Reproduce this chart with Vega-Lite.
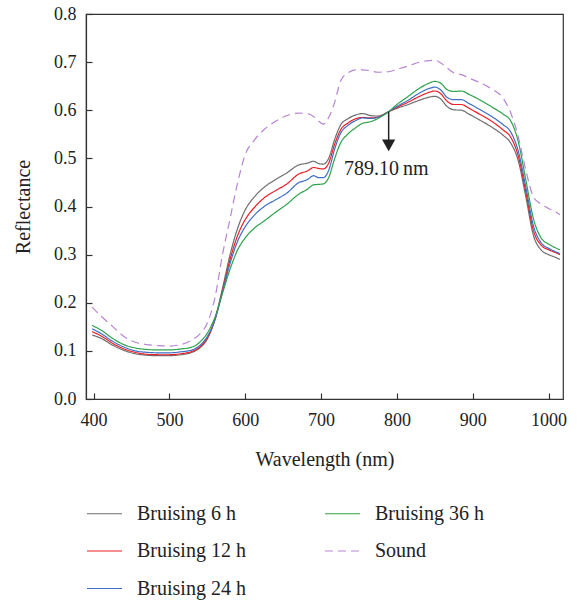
{
  "$schema": "https://vega.github.io/schema/vega-lite/v6.json",
  "autosize": "none",
  "width": 477,
  "height": 385,
  "padding": {"left": 86, "top": 14, "right": 14, "bottom": 202},
  "config": {
    "font": "Liberation Serif",
    "view": {"stroke": "#333", "strokeWidth": 1.2},
    "axis": {"grid": false, "domainColor": "#333", "domainWidth": 1.2, "tickColor": "#333", "tickWidth": 1.2, "labelColor": "#222", "titleColor": "#222", "labelFont": "Liberation Serif", "titleFont": "Liberation Serif", "titleFontWeight": "normal", "labelFontSize": 18, "titleFontSize": 20}
  },
  "datasets": {
    "spectra": [
      {"w":398,"r":0.133,"s":"Bruising 6 h"},{"w":410,"r":0.126,"s":"Bruising 6 h"},{"w":425,"r":0.112,"s":"Bruising 6 h"},{"w":440,"r":0.101,"s":"Bruising 6 h"},{"w":455,"r":0.094,"s":"Bruising 6 h"},{"w":470,"r":0.091,"s":"Bruising 6 h"},{"w":485,"r":0.090,"s":"Bruising 6 h"},{"w":500,"r":0.090,"s":"Bruising 6 h"},{"w":515,"r":0.092,"s":"Bruising 6 h"},{"w":530,"r":0.097,"s":"Bruising 6 h"},{"w":540,"r":0.106,"s":"Bruising 6 h"},{"w":550,"r":0.125,"s":"Bruising 6 h"},{"w":560,"r":0.165,"s":"Bruising 6 h"},{"w":570,"r":0.230,"s":"Bruising 6 h"},{"w":580,"r":0.300,"s":"Bruising 6 h"},{"w":590,"r":0.355,"s":"Bruising 6 h"},{"w":600,"r":0.393,"s":"Bruising 6 h"},{"w":612,"r":0.420,"s":"Bruising 6 h"},{"w":625,"r":0.440,"s":"Bruising 6 h"},{"w":640,"r":0.456,"s":"Bruising 6 h"},{"w":655,"r":0.470,"s":"Bruising 6 h"},{"w":670,"r":0.486,"s":"Bruising 6 h"},{"w":682,"r":0.490,"s":"Bruising 6 h"},{"w":690,"r":0.494,"s":"Bruising 6 h"},{"w":697,"r":0.489,"s":"Bruising 6 h"},{"w":703,"r":0.488,"s":"Bruising 6 h"},{"w":710,"r":0.500,"s":"Bruising 6 h"},{"w":718,"r":0.540,"s":"Bruising 6 h"},{"w":726,"r":0.570,"s":"Bruising 6 h"},{"w":735,"r":0.582,"s":"Bruising 6 h"},{"w":745,"r":0.590,"s":"Bruising 6 h"},{"w":755,"r":0.593,"s":"Bruising 6 h"},{"w":765,"r":0.589,"s":"Bruising 6 h"},{"w":775,"r":0.588,"s":"Bruising 6 h"},{"w":789,"r":0.597,"s":"Bruising 6 h"},{"w":800,"r":0.604,"s":"Bruising 6 h"},{"w":815,"r":0.612,"s":"Bruising 6 h"},{"w":830,"r":0.621,"s":"Bruising 6 h"},{"w":842,"r":0.627,"s":"Bruising 6 h"},{"w":850,"r":0.629,"s":"Bruising 6 h"},{"w":858,"r":0.623,"s":"Bruising 6 h"},{"w":866,"r":0.608,"s":"Bruising 6 h"},{"w":875,"r":0.601,"s":"Bruising 6 h"},{"w":885,"r":0.600,"s":"Bruising 6 h"},{"w":895,"r":0.592,"s":"Bruising 6 h"},{"w":910,"r":0.579,"s":"Bruising 6 h"},{"w":925,"r":0.565,"s":"Bruising 6 h"},{"w":940,"r":0.548,"s":"Bruising 6 h"},{"w":950,"r":0.532,"s":"Bruising 6 h"},{"w":960,"r":0.495,"s":"Bruising 6 h"},{"w":970,"r":0.420,"s":"Bruising 6 h"},{"w":980,"r":0.340,"s":"Bruising 6 h"},{"w":990,"r":0.310,"s":"Bruising 6 h"},{"w":1000,"r":0.300,"s":"Bruising 6 h"},{"w":1008,"r":0.295,"s":"Bruising 6 h"},{"w":1015,"r":0.290,"s":"Bruising 6 h"},

      {"w":398,"r":0.140,"s":"Bruising 12 h"},{"w":410,"r":0.131,"s":"Bruising 12 h"},{"w":425,"r":0.116,"s":"Bruising 12 h"},{"w":440,"r":0.104,"s":"Bruising 12 h"},{"w":455,"r":0.097,"s":"Bruising 12 h"},{"w":470,"r":0.093,"s":"Bruising 12 h"},{"w":485,"r":0.092,"s":"Bruising 12 h"},{"w":500,"r":0.092,"s":"Bruising 12 h"},{"w":515,"r":0.094,"s":"Bruising 12 h"},{"w":530,"r":0.099,"s":"Bruising 12 h"},{"w":540,"r":0.108,"s":"Bruising 12 h"},{"w":550,"r":0.127,"s":"Bruising 12 h"},{"w":560,"r":0.165,"s":"Bruising 12 h"},{"w":570,"r":0.225,"s":"Bruising 12 h"},{"w":580,"r":0.290,"s":"Bruising 12 h"},{"w":590,"r":0.340,"s":"Bruising 12 h"},{"w":600,"r":0.373,"s":"Bruising 12 h"},{"w":612,"r":0.398,"s":"Bruising 12 h"},{"w":625,"r":0.418,"s":"Bruising 12 h"},{"w":640,"r":0.433,"s":"Bruising 12 h"},{"w":655,"r":0.447,"s":"Bruising 12 h"},{"w":670,"r":0.467,"s":"Bruising 12 h"},{"w":682,"r":0.474,"s":"Bruising 12 h"},{"w":690,"r":0.481,"s":"Bruising 12 h"},{"w":697,"r":0.479,"s":"Bruising 12 h"},{"w":703,"r":0.478,"s":"Bruising 12 h"},{"w":710,"r":0.490,"s":"Bruising 12 h"},{"w":718,"r":0.530,"s":"Bruising 12 h"},{"w":726,"r":0.560,"s":"Bruising 12 h"},{"w":735,"r":0.573,"s":"Bruising 12 h"},{"w":745,"r":0.582,"s":"Bruising 12 h"},{"w":755,"r":0.585,"s":"Bruising 12 h"},{"w":765,"r":0.584,"s":"Bruising 12 h"},{"w":775,"r":0.586,"s":"Bruising 12 h"},{"w":789,"r":0.597,"s":"Bruising 12 h"},{"w":800,"r":0.606,"s":"Bruising 12 h"},{"w":815,"r":0.617,"s":"Bruising 12 h"},{"w":830,"r":0.629,"s":"Bruising 12 h"},{"w":842,"r":0.637,"s":"Bruising 12 h"},{"w":850,"r":0.640,"s":"Bruising 12 h"},{"w":858,"r":0.634,"s":"Bruising 12 h"},{"w":866,"r":0.619,"s":"Bruising 12 h"},{"w":875,"r":0.612,"s":"Bruising 12 h"},{"w":885,"r":0.612,"s":"Bruising 12 h"},{"w":895,"r":0.604,"s":"Bruising 12 h"},{"w":910,"r":0.591,"s":"Bruising 12 h"},{"w":925,"r":0.577,"s":"Bruising 12 h"},{"w":940,"r":0.559,"s":"Bruising 12 h"},{"w":950,"r":0.544,"s":"Bruising 12 h"},{"w":960,"r":0.505,"s":"Bruising 12 h"},{"w":970,"r":0.430,"s":"Bruising 12 h"},{"w":980,"r":0.350,"s":"Bruising 12 h"},{"w":990,"r":0.320,"s":"Bruising 12 h"},{"w":1000,"r":0.310,"s":"Bruising 12 h"},{"w":1008,"r":0.305,"s":"Bruising 12 h"},{"w":1015,"r":0.300,"s":"Bruising 12 h"},

      {"w":398,"r":0.146,"s":"Bruising 24 h"},{"w":410,"r":0.136,"s":"Bruising 24 h"},{"w":425,"r":0.120,"s":"Bruising 24 h"},{"w":440,"r":0.108,"s":"Bruising 24 h"},{"w":455,"r":0.100,"s":"Bruising 24 h"},{"w":470,"r":0.097,"s":"Bruising 24 h"},{"w":485,"r":0.096,"s":"Bruising 24 h"},{"w":500,"r":0.096,"s":"Bruising 24 h"},{"w":515,"r":0.098,"s":"Bruising 24 h"},{"w":530,"r":0.102,"s":"Bruising 24 h"},{"w":540,"r":0.111,"s":"Bruising 24 h"},{"w":550,"r":0.130,"s":"Bruising 24 h"},{"w":560,"r":0.165,"s":"Bruising 24 h"},{"w":570,"r":0.222,"s":"Bruising 24 h"},{"w":580,"r":0.282,"s":"Bruising 24 h"},{"w":590,"r":0.328,"s":"Bruising 24 h"},{"w":600,"r":0.358,"s":"Bruising 24 h"},{"w":612,"r":0.382,"s":"Bruising 24 h"},{"w":625,"r":0.400,"s":"Bruising 24 h"},{"w":640,"r":0.414,"s":"Bruising 24 h"},{"w":655,"r":0.428,"s":"Bruising 24 h"},{"w":670,"r":0.449,"s":"Bruising 24 h"},{"w":682,"r":0.456,"s":"Bruising 24 h"},{"w":690,"r":0.464,"s":"Bruising 24 h"},{"w":697,"r":0.460,"s":"Bruising 24 h"},{"w":703,"r":0.460,"s":"Bruising 24 h"},{"w":710,"r":0.475,"s":"Bruising 24 h"},{"w":718,"r":0.520,"s":"Bruising 24 h"},{"w":726,"r":0.553,"s":"Bruising 24 h"},{"w":735,"r":0.568,"s":"Bruising 24 h"},{"w":745,"r":0.578,"s":"Bruising 24 h"},{"w":755,"r":0.584,"s":"Bruising 24 h"},{"w":765,"r":0.583,"s":"Bruising 24 h"},{"w":775,"r":0.585,"s":"Bruising 24 h"},{"w":789,"r":0.597,"s":"Bruising 24 h"},{"w":800,"r":0.608,"s":"Bruising 24 h"},{"w":815,"r":0.621,"s":"Bruising 24 h"},{"w":830,"r":0.636,"s":"Bruising 24 h"},{"w":842,"r":0.645,"s":"Bruising 24 h"},{"w":850,"r":0.648,"s":"Bruising 24 h"},{"w":858,"r":0.642,"s":"Bruising 24 h"},{"w":866,"r":0.627,"s":"Bruising 24 h"},{"w":875,"r":0.622,"s":"Bruising 24 h"},{"w":885,"r":0.622,"s":"Bruising 24 h"},{"w":895,"r":0.614,"s":"Bruising 24 h"},{"w":910,"r":0.601,"s":"Bruising 24 h"},{"w":925,"r":0.587,"s":"Bruising 24 h"},{"w":940,"r":0.570,"s":"Bruising 24 h"},{"w":950,"r":0.555,"s":"Bruising 24 h"},{"w":960,"r":0.515,"s":"Bruising 24 h"},{"w":970,"r":0.440,"s":"Bruising 24 h"},{"w":980,"r":0.360,"s":"Bruising 24 h"},{"w":990,"r":0.325,"s":"Bruising 24 h"},{"w":1000,"r":0.313,"s":"Bruising 24 h"},{"w":1008,"r":0.307,"s":"Bruising 24 h"},{"w":1015,"r":0.302,"s":"Bruising 24 h"},

      {"w":398,"r":0.153,"s":"Bruising 36 h"},{"w":410,"r":0.143,"s":"Bruising 36 h"},{"w":425,"r":0.126,"s":"Bruising 36 h"},{"w":440,"r":0.113,"s":"Bruising 36 h"},{"w":455,"r":0.106,"s":"Bruising 36 h"},{"w":470,"r":0.103,"s":"Bruising 36 h"},{"w":485,"r":0.102,"s":"Bruising 36 h"},{"w":500,"r":0.102,"s":"Bruising 36 h"},{"w":515,"r":0.104,"s":"Bruising 36 h"},{"w":530,"r":0.108,"s":"Bruising 36 h"},{"w":540,"r":0.118,"s":"Bruising 36 h"},{"w":550,"r":0.137,"s":"Bruising 36 h"},{"w":560,"r":0.170,"s":"Bruising 36 h"},{"w":570,"r":0.220,"s":"Bruising 36 h"},{"w":580,"r":0.270,"s":"Bruising 36 h"},{"w":590,"r":0.310,"s":"Bruising 36 h"},{"w":600,"r":0.335,"s":"Bruising 36 h"},{"w":612,"r":0.355,"s":"Bruising 36 h"},{"w":625,"r":0.370,"s":"Bruising 36 h"},{"w":640,"r":0.388,"s":"Bruising 36 h"},{"w":655,"r":0.405,"s":"Bruising 36 h"},{"w":670,"r":0.425,"s":"Bruising 36 h"},{"w":682,"r":0.436,"s":"Bruising 36 h"},{"w":690,"r":0.445,"s":"Bruising 36 h"},{"w":697,"r":0.446,"s":"Bruising 36 h"},{"w":703,"r":0.447,"s":"Bruising 36 h"},{"w":710,"r":0.460,"s":"Bruising 36 h"},{"w":718,"r":0.500,"s":"Bruising 36 h"},{"w":726,"r":0.533,"s":"Bruising 36 h"},{"w":735,"r":0.550,"s":"Bruising 36 h"},{"w":745,"r":0.563,"s":"Bruising 36 h"},{"w":755,"r":0.573,"s":"Bruising 36 h"},{"w":765,"r":0.576,"s":"Bruising 36 h"},{"w":775,"r":0.583,"s":"Bruising 36 h"},{"w":789,"r":0.597,"s":"Bruising 36 h"},{"w":800,"r":0.612,"s":"Bruising 36 h"},{"w":815,"r":0.629,"s":"Bruising 36 h"},{"w":830,"r":0.646,"s":"Bruising 36 h"},{"w":842,"r":0.656,"s":"Bruising 36 h"},{"w":850,"r":0.660,"s":"Bruising 36 h"},{"w":858,"r":0.656,"s":"Bruising 36 h"},{"w":866,"r":0.643,"s":"Bruising 36 h"},{"w":875,"r":0.639,"s":"Bruising 36 h"},{"w":885,"r":0.640,"s":"Bruising 36 h"},{"w":895,"r":0.633,"s":"Bruising 36 h"},{"w":910,"r":0.621,"s":"Bruising 36 h"},{"w":925,"r":0.607,"s":"Bruising 36 h"},{"w":940,"r":0.592,"s":"Bruising 36 h"},{"w":950,"r":0.578,"s":"Bruising 36 h"},{"w":960,"r":0.535,"s":"Bruising 36 h"},{"w":970,"r":0.455,"s":"Bruising 36 h"},{"w":980,"r":0.375,"s":"Bruising 36 h"},{"w":990,"r":0.335,"s":"Bruising 36 h"},{"w":1000,"r":0.322,"s":"Bruising 36 h"},{"w":1008,"r":0.315,"s":"Bruising 36 h"},{"w":1015,"r":0.310,"s":"Bruising 36 h"},

      {"w":398,"r":0.191,"s":"Sound"},{"w":410,"r":0.172,"s":"Sound"},{"w":425,"r":0.151,"s":"Sound"},{"w":440,"r":0.130,"s":"Sound"},{"w":455,"r":0.118,"s":"Sound"},{"w":470,"r":0.113,"s":"Sound"},{"w":485,"r":0.111,"s":"Sound"},{"w":500,"r":0.110,"s":"Sound"},{"w":515,"r":0.113,"s":"Sound"},{"w":530,"r":0.123,"s":"Sound"},{"w":540,"r":0.135,"s":"Sound"},{"w":550,"r":0.158,"s":"Sound"},{"w":560,"r":0.210,"s":"Sound"},{"w":570,"r":0.300,"s":"Sound"},{"w":580,"r":0.375,"s":"Sound"},{"w":590,"r":0.450,"s":"Sound"},{"w":600,"r":0.508,"s":"Sound"},{"w":612,"r":0.538,"s":"Sound"},{"w":625,"r":0.560,"s":"Sound"},{"w":640,"r":0.577,"s":"Sound"},{"w":655,"r":0.589,"s":"Sound"},{"w":670,"r":0.594,"s":"Sound"},{"w":682,"r":0.593,"s":"Sound"},{"w":690,"r":0.587,"s":"Sound"},{"w":697,"r":0.577,"s":"Sound"},{"w":703,"r":0.571,"s":"Sound"},{"w":710,"r":0.585,"s":"Sound"},{"w":718,"r":0.617,"s":"Sound"},{"w":726,"r":0.662,"s":"Sound"},{"w":735,"r":0.677,"s":"Sound"},{"w":745,"r":0.684,"s":"Sound"},{"w":755,"r":0.684,"s":"Sound"},{"w":765,"r":0.682,"s":"Sound"},{"w":775,"r":0.679,"s":"Sound"},{"w":789,"r":0.680,"s":"Sound"},{"w":800,"r":0.685,"s":"Sound"},{"w":815,"r":0.692,"s":"Sound"},{"w":830,"r":0.700,"s":"Sound"},{"w":842,"r":0.703,"s":"Sound"},{"w":850,"r":0.704,"s":"Sound"},{"w":858,"r":0.698,"s":"Sound"},{"w":866,"r":0.688,"s":"Sound"},{"w":875,"r":0.678,"s":"Sound"},{"w":885,"r":0.674,"s":"Sound"},{"w":895,"r":0.667,"s":"Sound"},{"w":910,"r":0.657,"s":"Sound"},{"w":925,"r":0.644,"s":"Sound"},{"w":940,"r":0.625,"s":"Sound"},{"w":950,"r":0.595,"s":"Sound"},{"w":960,"r":0.545,"s":"Sound"},{"w":970,"r":0.475,"s":"Sound"},{"w":980,"r":0.420,"s":"Sound"},{"w":990,"r":0.405,"s":"Sound"},{"w":1000,"r":0.396,"s":"Sound"},{"w":1008,"r":0.390,"s":"Sound"},{"w":1015,"r":0.383,"s":"Sound"}
    ]
  },
  "layer": [
    {
      "data": {"name": "spectra"},
      "mark": {"type": "line", "strokeWidth": 1.2, "interpolate": "monotone"},
      "encoding": {
        "x": {"field": "w", "type": "quantitative", "scale": {"domain": [390, 1019], "nice": false, "zero": false},
          "axis": {"title": "Wavelength (nm)", "values": [400,450,500,550,600,650,700,750,800,850,900,950,1000],
            "labelExpr": "datum.value % 100 === 0 ? format(datum.value, 'd') : ''",
            "tickSize": {"condition": {"test": "datum.value % 100 === 0", "value": -6}, "value": -3},
            "labelPadding": 18, "titlePadding": 20, "labelOverlap": false}},
        "y": {"field": "r", "type": "quantitative", "scale": {"domain": [0, 0.8], "nice": false},
          "axis": {"title": "Reflectance", "values": [0,0.05,0.1,0.15,0.2,0.25,0.3,0.35,0.4,0.45,0.5,0.55,0.6,0.65,0.7,0.75,0.8],
            "labelExpr": "abs(datum.value*10 - round(datum.value*10)) < 0.001 ? format(datum.value, '.1f') : ''",
            "tickSize": {"condition": {"test": "abs(datum.value*10 - round(datum.value*10)) < 0.001", "value": -6}, "value": -3},
            "labelPadding": 16, "titlePadding": 20, "labelOverlap": false}},
        "color": {"field": "s", "type": "nominal",
          "scale": {"domain": ["Bruising 6 h", "Bruising 36 h", "Bruising 12 h", "Sound", "Bruising 24 h"],
            "range": ["#6e6e6e", "#2ea24c", "#ec1f27", "#b686d4", "#3f6ec6"]},
          "legend": {"title": null, "orient": "none", "legendX": 0, "legendY": 481, "columns": 2, "direction": "horizontal",
            "symbolType": "stroke", "symbolSize": 1225, "symbolStrokeWidth": 1.2, "labelFontSize": 20, "labelFont": "Liberation Serif",
            "labelColor": "#222", "labelOffset": 14, "columnPadding": 76, "rowPadding": 8.5, "padding": 0}},
        "strokeDash": {"field": "s", "type": "nominal",
          "scale": {"domain": ["Bruising 6 h", "Bruising 36 h", "Bruising 12 h", "Sound", "Bruising 24 h"],
            "range": [[1,0],[1,0],[1,0],[8,5],[1,0]]},
          "legend": {"title": null, "orient": "none", "legendX": 0, "legendY": 481, "columns": 2, "direction": "horizontal",
            "symbolType": "stroke", "symbolSize": 1225, "symbolStrokeWidth": 1.2, "labelFontSize": 20, "labelFont": "Liberation Serif",
            "labelColor": "#222", "labelOffset": 14, "columnPadding": 76, "rowPadding": 8.5, "padding": 0}}
      }
    },
    {
      "data": {"values": [{"w": 789.1, "r": 0.597, "r2": 0.535}]},
      "mark": {"type": "rule", "color": "#222", "strokeWidth": 1.5},
      "encoding": {"x": {"field": "w", "type": "quantitative"}, "y": {"field": "r", "type": "quantitative"}, "y2": {"field": "r2"}}
    },
    {
      "data": {"values": [{"w": 789.1, "r": 0.527}]},
      "mark": {"type": "point", "shape": "triangle-down", "filled": true, "color": "#222", "size": 177, "opacity": 1},
      "encoding": {"x": {"field": "w", "type": "quantitative"}, "y": {"field": "r", "type": "quantitative"}}
    },
    {
      "data": {"values": [{"w": 786, "r": 0.478, "label": "789.10\u2009nm"}]},
      "mark": {"type": "text", "font": "Liberation Serif", "fontSize": 20, "color": "#222", "align": "center", "baseline": "middle"},
      "encoding": {"x": {"field": "w", "type": "quantitative"}, "y": {"field": "r", "type": "quantitative"}, "text": {"field": "label"}}
    }
  ]
}
